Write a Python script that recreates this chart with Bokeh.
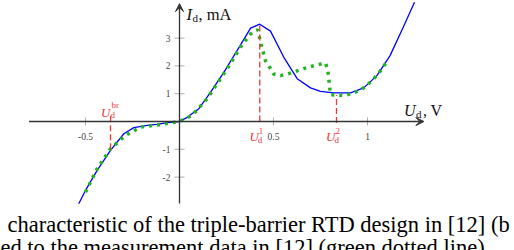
from bokeh.plotting import figure
from bokeh.models import Range1d, Arrow, VeeHead
from bokeh.core.properties import value
from bokeh.embed import file_html
from bokeh.resources import INLINE

# ---------------- data ----------------
blue_v = [-0.536, -0.5, -0.438, -0.367, -0.296, -0.243, -0.172, -0.119, -0.065, 0.0,
          0.041, 0.103, 0.165, 0.236, 0.328, 0.378, 0.427, 0.484, 0.555, 0.626,
          0.697, 0.75, 0.82, 0.91, 0.98, 1.05, 1.12, 1.19, 1.25]
blue_i = [-2.96, -2.48, -1.76, -1.04, -0.44, -0.22, -0.14, -0.1, -0.04, 0.0,
          0.15, 0.46, 1.05, 1.77, 2.79, 3.36, 3.50, 3.25, 2.31, 1.54,
          1.21, 1.08, 1.03, 1.03, 1.21, 1.65, 2.37, 3.39, 4.29]

green_v = [-0.5, -0.438, -0.367, -0.287, -0.207, -0.10, 0.0, 0.067, 0.147, 0.218,
           0.271, 0.324, 0.378, 0.416, 0.434, 0.457, 0.484, 0.50, 0.537, 0.59,
           0.66, 0.73, 0.777, 0.789, 0.794, 0.803, 0.883, 0.963, 1.025, 1.07, 1.10]
green_i = [-2.54, -1.70, -0.98, -0.50, -0.20, -0.11, 0.0, 0.22, 0.82, 1.54,
           2.08, 2.67, 3.15, 3.30, 2.79, 2.19, 1.90, 1.71, 1.65, 1.74,
           1.90, 2.04, 2.10, 1.83, 1.54, 0.96, 0.94, 1.12, 1.47, 1.83, 2.13]

x_ticks = [-0.5, 0.5, 1.0]
x_tick_labels = ["-0.5", "0.5", "1"]
y_ticks = [-2, -1, 1, 2, 3]
y_tick_labels = ["-2", "-1", "1", "2", "3"]

marker_sup = ["br", "1", "2"]
marker_v = [-0.367, 0.427, 0.835]
marker_lo = [-1.0, 0.0, -0.05]
marker_hi = [0.2, 3.5, 0.95]

x_axis_span = [-0.80, 1.30]
y_axis_span = [-2.95, 4.24]

caption_lines = ["characteristic of the triple-barrier RTD design in [12] (b",
                 "ed to the measurement data in [12] (green dotted line)."]

# ---------------- layout ----------------
W, H = 514, 250
PXV, PXI = 188.0, 27.8          # pixels per V, pixels per mA
OX, OY = 179.0, 121.0           # origin inside the canvas (px from left / top)

p = figure(width=W, height=H, output_backend="svg", toolbar_location=None,
           x_range=Range1d(-OX / PXV, (W - OX) / PXV),
           y_range=Range1d(-(H - OY) / PXI, OY / PXI),
           x_axis_type=None, y_axis_type=None, min_border=0,
           outline_line_color=None,
           background_fill_color="white", border_fill_color="white")
p.grid.visible = False

SERIF = value("Liberation Serif")
AX = "#333333"
INK = "#111111"

# axes
p.add_layout(Arrow(end=VeeHead(size=8, fill_color=AX, line_color=AX),
                   x_start=x_axis_span[0], y_start=0, x_end=x_axis_span[1], y_end=0,
                   line_color=AX, line_width=1.3))
p.add_layout(Arrow(end=VeeHead(size=8, fill_color=AX, line_color=AX),
                   x_start=0, y_start=y_axis_span[0], x_end=0, y_end=y_axis_span[1],
                   line_color=AX, line_width=1.3))

# ticks
p.scatter(x=x_ticks, y=[0] * len(x_ticks), marker="dash", size=8, angle=1.5708,
          line_color="#999999", line_width=0.8)
p.scatter(x=[0] * len(y_ticks), y=y_ticks, marker="dash", size=10,
          line_color="#999999", line_width=0.8)
p.text(x=x_ticks, y=[0] * len(x_ticks), text=x_tick_labels, text_font=SERIF,
       text_font_size="9.5px", text_align="center", text_baseline="alphabetic",
       y_offset=15, text_color="#444444")
p.text(x=[0] * len(y_ticks), y=y_ticks, text=y_tick_labels, text_font=SERIF,
       text_font_size="9.5px", text_align="right", text_baseline="middle",
       x_offset=-9, text_color="#444444")

# curves
p.line(blue_v, blue_i, line_color="#0000ff", line_width=1.3)
p.line(green_v, green_i, line_color="#1fb51f", line_width=3.5, line_dash="3 5")

# red markers
RED = "#ee3a3a"
p.segment(x0=marker_v, y0=marker_lo, x1=marker_v, y1=marker_hi,
          line_color=RED, line_width=1.3, line_dash="6 3")
p.text(x=marker_v[:1], y=[0], text=["U"], text_font=SERIF, text_font_style="italic",
       text_font_size="13px", text_align="right", text_baseline="alphabetic",
       x_offset=0, y_offset=-9, text_color=RED)
p.text(x=marker_v[:1], y=[0], text=["d"], text_font=SERIF, text_font_size="9px",
       text_align="left", text_baseline="alphabetic", x_offset=0, y_offset=-7, text_color=RED)
p.text(x=marker_v[:1], y=[0], text=[marker_sup[0]], text_font=SERIF, text_font_size="9px",
       text_align="left", text_baseline="alphabetic", x_offset=1, y_offset=-17, text_color=RED)
p.text(x=marker_v[1:], y=[0, 0], text=["U", "U"], text_font=SERIF, text_font_style="italic",
       text_font_size="13px", text_align="right", text_baseline="alphabetic",
       x_offset=-1, y_offset=15, text_color=RED)
p.text(x=marker_v[1:], y=[0, 0], text=["d", "d"], text_font=SERIF, text_font_size="9px",
       text_align="left", text_baseline="alphabetic", x_offset=-2, y_offset=18, text_color=RED)
p.text(x=marker_v[1:], y=[0, 0], text=marker_sup[1:], text_font=SERIF, text_font_size="9px",
       text_align="left", text_baseline="alphabetic", x_offset=-1, y_offset=9, text_color=RED)

# axis titles
p.text(x=[0], y=[0], text=["I"], text_font=SERIF, text_font_style="italic", text_font_size="16.5px",
       text_align="left", text_baseline="alphabetic", x_offset=7, y_offset=-107, text_color=INK)
p.text(x=[0], y=[0], text=["d"], text_font=SERIF, text_font_size="11px",
       text_align="left", text_baseline="alphabetic", x_offset=13, y_offset=-104, text_color=INK)
p.text(x=[0], y=[0], text=[", mA"], text_font=SERIF, text_font_size="16.5px",
       text_align="left", text_baseline="alphabetic", x_offset=19, y_offset=-107, text_color=INK)
p.text(x=[x_axis_span[1]], y=[0], text=["U"], text_font=SERIF, text_font_style="italic", text_font_size="16px",
       text_align="left", text_baseline="alphabetic", x_offset=-20, y_offset=-11, text_color=INK)
p.text(x=[x_axis_span[1]], y=[0], text=["d"], text_font=SERIF, text_font_size="11px",
       text_align="left", text_baseline="alphabetic", x_offset=-8, y_offset=-8, text_color=INK)
p.text(x=[x_axis_span[1]], y=[0], text=[", V"], text_font=SERIF, text_font_size="16px",
       text_align="left", text_baseline="alphabetic", x_offset=-1, y_offset=-11, text_color=INK)

# caption (partially visible, as in the reference)
p.text(x=[p.x_range.start, p.x_range.start], y=[p.y_range.start, p.y_range.start],
       text=caption_lines, text_font=SERIF, text_font_size="22.5px", text_align="left",
       text_baseline="alphabetic", x_offset=[7, 0], y_offset=[-26, -3], text_color="#000000")

open("out.html", "w").write(file_html(p, INLINE))
